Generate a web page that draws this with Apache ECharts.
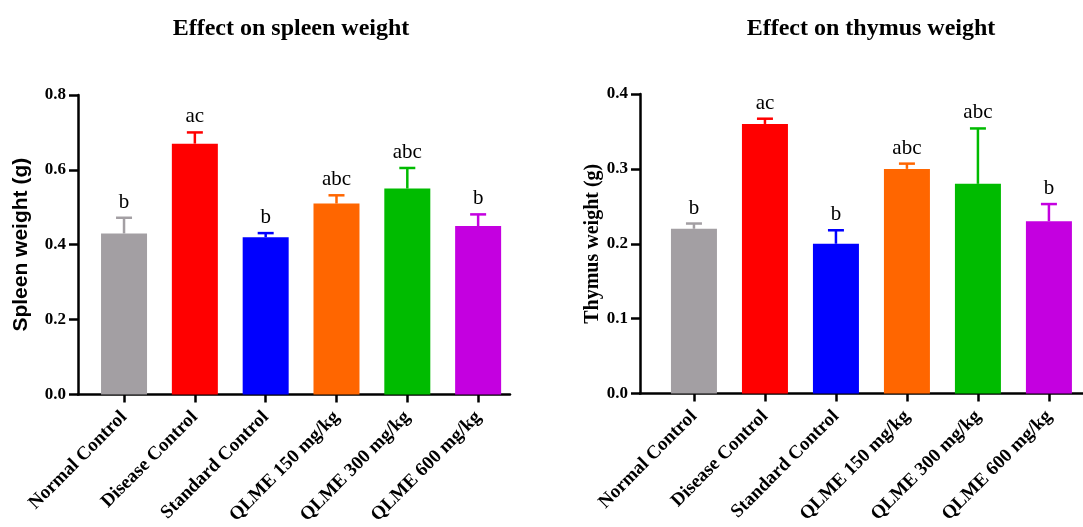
<!DOCTYPE html>
<html>
<head>
<meta charset="utf-8">
<script src="https://cdn.jsdelivr.net/npm/echarts@6/dist/echarts.min.js"></script>
<style>html,body{margin:0;padding:0;background:#fff}#c{width:1083px;height:527px}</style>
</head>
<body>
<div id="c"></div>
<script>
const categories = ['Normal Control', 'Disease Control', 'Standard Control', 'QLME 150 mg/kg', 'QLME 300 mg/kg', 'QLME 600 mg/kg'];
const spleenMean = [0.43, 0.67, 0.42, 0.51, 0.55, 0.45];
const spleenErr = [0.042, 0.030, 0.011, 0.022, 0.055, 0.031];
const thymusMean = [0.22, 0.36, 0.20, 0.30, 0.28, 0.23];
const thymusErr = [0.007, 0.007, 0.018, 0.007, 0.074, 0.023];
const letters = ['b', 'ac', 'b', 'abc', 'abc', 'b'];
const spleenTicks = [0, 0.2, 0.4, 0.6, 0.8];
const thymusTicks = [0, 0.1, 0.2, 0.3, 0.4];
const colors = ['#a39fa3', '#ff0000', '#0000ff', '#ff6600', '#00bb00', '#c400e0'];

const SERIF = '"Liberation Serif", "Times New Roman", serif';
const SANS = '"Liberation Sans", Arial, sans-serif';
const idx = categories.map((_, i) => i);

function xAxisCfg(gridIndex, min, max) {
  return {
    type: 'value', gridIndex, min, max,
    splitLine: {show: false},
    axisLine: {show: true, lineStyle: {color: '#000', width: 2.5}},
    axisTick: {show: true, length: 8, lineStyle: {color: '#000', width: 2.5}, customValues: idx},
    axisLabel: {
      customValues: idx, rotate: 45, margin: 20, color: '#000',
      fontFamily: SERIF, fontWeight: 'bold', fontSize: 19,
      formatter: v => categories[Math.round(v)]
    }
  };
}
function yAxisCfg(gridIndex, max, interval, name, nameFont, nameSize, nameGap) {
  return {
    type: 'value', gridIndex, min: 0, max, interval,
    name, nameLocation: 'middle', nameGap,
    nameTextStyle: {fontFamily: nameFont, fontWeight: 'bold', fontSize: nameSize, color: '#000'},
    splitLine: {show: false},
    axisLine: {show: true, onZero: false, lineStyle: {color: '#000', width: 2.5}},
    axisTick: {show: true, length: 9, lineStyle: {color: '#000', width: 2.5}},
    axisLabel: {color: '#000', fontFamily: SERIF, fontWeight: 'bold', fontSize: 17, margin: 12,
      formatter: v => v.toFixed(1)}
  };
}
function barSeries(k, mean) {
  return {
    type: 'bar', xAxisIndex: k, yAxisIndex: k, barWidth: 46,
    data: mean.map((v, i) => ({value: [i, v], itemStyle: {color: colors[i]}}))
  };
}
function errSeries(k, mean, err) {
  return {
    type: 'custom', xAxisIndex: k, yAxisIndex: k, clip: false, z: 3,
    data: mean.map((v, i) => [i, v, v + err[i]]),
    renderItem: function (params, api) {
      const i = params.dataIndex;
      const base = api.coord([api.value(0), api.value(1)]);
      const top = api.coord([api.value(0), api.value(2)]);
      const col = colors[i];
      return {
        type: 'group',
        children: [
          {type: 'line', shape: {x1: base[0], y1: base[1], x2: top[0], y2: top[1]}, style: {stroke: col, lineWidth: 2.5}},
          {type: 'line', shape: {x1: top[0] - 8, y1: top[1], x2: top[0] + 8, y2: top[1]}, style: {stroke: col, lineWidth: 2.5}},
          {type: 'text', style: {text: letters[i], x: top[0], y: top[1] - 5, align: 'center', verticalAlign: 'bottom',
            fontFamily: SERIF, fontSize: 21, fill: '#000'}}
        ]
      };
    }
  };
}

const chart = echarts.init(document.getElementById('c'));
chart.setOption({
  animation: false,
  backgroundColor: '#fff',
  title: [
    {text: 'Effect on spleen weight', left: 286, top: 12, textAlign: 'center',
      textStyle: {fontFamily: SERIF, fontWeight: 'bold', fontSize: 24, color: '#000'}},
    {text: 'Effect on thymus weight', left: 866, top: 12, textAlign: 'center',
      textStyle: {fontFamily: SERIF, fontWeight: 'bold', fontSize: 24, color: '#000'}}
  ],
  grid: [
    {left: 78, width: 432, top: 95, height: 300},
    {left: 640, width: 443, top: 94, height: 299.5}
  ],
  xAxis: [xAxisCfg(0, -0.65, 5.45), xAxisCfg(1, -0.76, 5.48)],
  yAxis: [
    yAxisCfg(0, spleenTicks[spleenTicks.length - 1], spleenTicks[1] - spleenTicks[0], 'Spleen weight (g)', SANS, 21, 46),
    yAxisCfg(1, thymusTicks[thymusTicks.length - 1], thymusTicks[1] - thymusTicks[0], 'Thymus weight (g)', SERIF, 20, 36)
  ],
  series: [
    barSeries(0, spleenMean), errSeries(0, spleenMean, spleenErr),
    barSeries(1, thymusMean), errSeries(1, thymusMean, thymusErr)
  ]
});
</script>
</body>
</html>
